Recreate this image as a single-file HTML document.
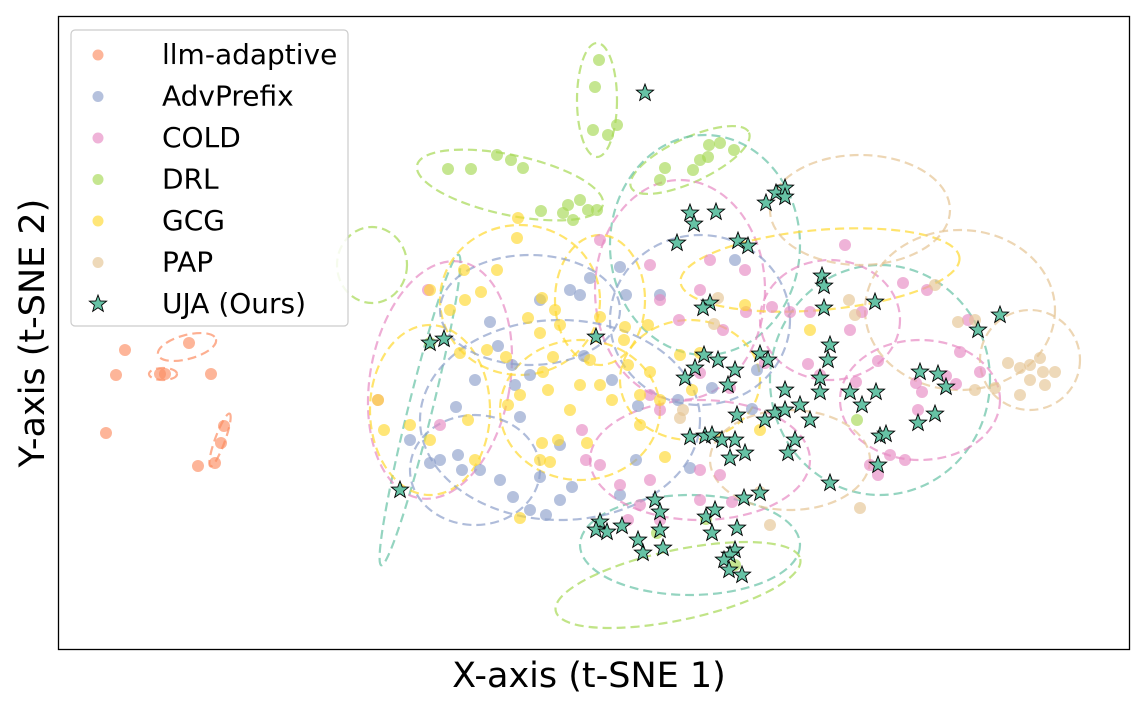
<!DOCTYPE html>
<html><head><meta charset="utf-8"><style>
html,body{margin:0;padding:0;background:#fff;}
svg text{font-family:"DejaVu Sans","Liberation Sans",sans-serif;}
</style></head><body>
<svg id="chart" width="1138" height="703" xmlns="http://www.w3.org/2000/svg">
<rect x="0" y="0" width="1138" height="703" fill="#fff"/>
<g id="ellipses"></g>
<g id="points"></g>
<rect x="58.5" y="16.5" width="1071" height="633" fill="none" stroke="#000" stroke-width="1.3"/>
<text x="589" y="687" font-size="35" text-anchor="middle">X-axis (t-SNE 1)</text>
<text x="0" y="0" font-size="35" text-anchor="middle" transform="translate(44,333) rotate(-90)">Y-axis (t-SNE 2)</text>
<g id="legend"></g>
</svg>
<script>
const groupNames = ["llm-adaptive","AdvPrefix","COLD","DRL","GCG","PAP","UJA (Ours)"];
const groupColors = ["#fc8d62","#8da0cb","#e78ac3","#a6d854","#ffd92f","#e5c494","#66c2a5"];
const llmPts = [[13.1,30.7],[6.7,30.0],[5.8,27.5],[10.2,27.6],[10.7,27.6],[15.3,27.6],[4.8,21.7],[14.0,18.4],[16.6,22.4],[16.3,20.7],[15.7,18.7]];
const advPts = [[56.2,38.3],[60.2,35.5],[56.8,35.5],[51.2,36],[52.2,35.5],[43.2,32.8],[48.2,35],[44,30.4],[45.4,28.5],[45.7,26.5],[39.8,24.3],[47.2,27.5],[41.7,27],[55.4,27],[58,24.4],[52.6,29.4],[46.2,23.3],[38.2,19],[40,19.5],[40.4,18],[37.2,18.7],[42.2,18],[44.2,17],[45.5,15.3],[47.2,14],[48.8,13.5],[50.2,15],[51.4,16.3],[48.2,17.3],[57.8,19],[50.2,20.5],[56.2,15.5],[63.2,18.2],[69.9,28],[69.4,24.1],[65.4,26.2],[62,25],[35.2,21],[53.2,37.2],[67.7,39]];
const coldPts = [[54.2,41],[59.2,38.5],[65.2,39],[68.7,38],[78.7,40.5],[64.2,36],[68.8,33.8],[71.4,34.3],[73.2,33.8],[75.2,33.8],[60.2,35],[62.1,33],[66.5,32],[80.4,33.8],[84.5,36.7],[86.9,36],[91,33],[64.2,27.7],[67.2,26.2],[70.7,28.7],[75,28.6],[76.2,27.5],[79.8,26.8],[82,28.9],[85.8,26.7],[88.8,27.4],[89.8,26.6],[92.2,27.8],[90.2,29.8],[86.4,25.8],[86,24],[82,17.5],[81.2,18.5],[83.2,19.5],[84.7,19],[59.2,25.5],[60.2,24],[52.4,22],[52.8,19],[54.2,18.5],[56.2,16.5],[58.2,14.5],[57,13],[60.2,13],[64.2,15],[67.4,14.8],[64.2,18],[66.2,17.5],[59.2,17],[38.2,22.5],[32,25],[37,36],[79.2,32]];
const drlPts = [[54.1,59],[53.7,56.3],[55.9,52.5],[55,51.5],[53.5,52],[39,48.1],[41.3,48.1],[43.9,49.5],[45.3,49],[46.5,48.2],[48.3,43.9],[50.5,43.7],[51,44.5],[52.2,45],[53,44],[53.9,44],[51.5,43],[65.1,50.5],[66.2,50.7],[67.6,50],[64.2,49],[60.7,48.2],[63.5,48],[60.2,47],[65,49.3],[37.2,30.7],[79.9,23],[67.7,8.5],[59.9,11.7],[64.8,13.1]];
const gcgPts = [[45.9,41.2],[40.6,38],[43.9,38],[37.2,36],[42.3,35.8],[39.2,34],[40.7,35],[48.4,35.2],[49.7,34],[47,33.2],[54.2,33.3],[50.2,32.5],[48.2,31.7],[56.7,32.3],[59,32.5],[56.6,31],[42.9,30],[40.2,29.7],[44.8,29.3],[49.5,29.3],[53.2,29],[57,28.5],[59.2,27.8],[62.2,29.5],[64.2,29.7],[52.2,26.5],[48.5,27.8],[46.2,25.5],[45,24.5],[49,26],[54.2,26.5],[55.4,25],[51.2,24],[58.2,25.5],[60.2,25],[63.4,26],[32.6,22],[32,25],[35.2,22.5],[41,23],[48.4,20.7],[52.9,20.7],[58.2,22.5],[37.2,21],[41.7,19],[46.2,13.2],[49.2,18.8],[50,21],[46,43.2],[68.7,34.5],[70.2,22],[48.2,19],[60.7,19.3],[75.2,32]];
const papPts = [[79.1,35],[79.7,33.5],[65.6,32.6],[90,32.8],[91.7,33],[87.7,36.5],[91.7,26],[93.7,26.2],[96.2,25.5],[97.2,27],[98.5,27.8],[99.7,27.8],[98.2,29.2],[96.2,28.2],[95,28.7],[97.2,28.5],[98.7,26.5],[62.5,24],[70.2,15.8],[71.2,12.5],[80.2,14.2],[62.2,23.2],[66,35.2]];
const ujaPts = [[58.7,55.7],[63.2,43.7],[65.8,43.8],[63.6,42.6],[61.9,40.7],[70.8,44.7],[71.8,45.7],[72.7,46.2],[72.7,45.3],[68,40.9],[69,40.4],[76.4,37.4],[76.6,36.4],[65.2,34.7],[64.5,34.2],[67.7,28],[76.6,34.2],[81.7,34.8],[94.2,33.5],[92,32],[38.6,31.1],[37.2,30.7],[53.8,31.3],[64.6,29.5],[62.7,27.2],[63.7,28.2],[66,29],[67,26.5],[70.2,29.6],[71,29],[77.2,30.5],[77,29],[76.2,27.2],[76.2,25.8],[72.7,26],[71.7,23.7],[72.7,24],[75.2,23],[73.7,21],[74.2,24.5],[79.2,25.8],[81.8,25.8],[82.2,21.4],[82.8,21.6],[82,18.5],[80.4,24.5],[77.2,16.7],[86.2,27.8],[88,27.6],[88.8,26.3],[87.7,23.6],[86,22.7],[67.9,23.5],[67.7,21],[67.2,19.2],[64.7,21.4],[65.4,21.5],[63.2,21.3],[66.4,21],[68.7,19.7],[70.7,23],[73,19.7],[70.2,15.7],[68.6,15.2],[59.7,15],[60.2,13.8],[54.2,12.8],[53.8,12],[54.9,11.8],[56.4,12.4],[60.2,12],[60.5,10.2],[58.5,9.7],[64.8,13.3],[65.4,11.7],[67.9,12.2],[67.7,10],[67.2,9.5],[66.6,9],[67.1,8],[68.4,7.5],[65.7,14],[34.2,16],[58,11]];
// ellipses: [group, cx, cy, rx, ry, rotationDeg]
const ellipseData = [
[0,12.9,30.3,3,1.2,-15],[0,10.5,27.6,1.4,0.6,0],[0,16.2,21,2.8,0.5,-70],
[3,53.9,55,2,5.7,0],[3,45.2,46.5,9.5,3,12],[3,63.2,49,6.5,2.2,-25],[3,31.4,38.5,3.5,3.8,0],[3,62,6.5,12.5,3.5,-12],
[6,64.7,40.5,9.5,11,0],[6,36.2,24,16,1.2,-76],[6,82.2,27,11,11.5,0],[6,63.2,10.5,11,5,0],
[2,62.2,36,8.5,11,0],[2,77.2,33,7,6,0],[2,38.2,27,7,12,10],[2,64.2,19,11,6,0],[2,86.2,25,8,6,0],
[4,46.2,35,8,7.5,0],[4,54.2,35,4.5,6.5,0],[4,37.2,24,6,8.5,0],[4,52.2,24,8,7,0],[4,63.2,27,7,6,0],[4,76.2,38,14,4,-5],
[1,47.2,34,9,5.5,0],[1,64.2,33,9,8.5,0],[1,41.7,18,6.5,5.5,0],[1,50.2,23,14,10,0],
[5,80.2,44,9,5.5,0],[5,90.2,34,9.5,8,0],[5,97.2,29,5,5,0],[5,73.2,19,8,5,0]
];

const NS = "http://www.w3.org/2000/svg";
const X0 = 58, Y0 = 650, KX = 10, KY = 10;
function sx(v){ return X0 + v*KX; }
function sy(v){ return Y0 - v*KY; }

const eg = document.getElementById("ellipses");
ellipseData.forEach(function(e){
  const el = document.createElementNS(NS,"ellipse");
  
  
  const cx = sx(e[1]), cy = sy(e[2]);
  el.setAttribute("cx", cx); el.setAttribute("cy", cy);
  el.setAttribute("rx", e[3]*KX); el.setAttribute("ry", e[4]*KY);
  el.setAttribute("transform", "rotate(" + e[5] + " " + cx + " " + cy + ")");
  el.setAttribute("fill", "none");
  el.setAttribute("stroke", groupColors[e[0]]);
  el.setAttribute("stroke-width", "2.2");
  el.setAttribute("stroke-dasharray", "9 5");
  el.setAttribute("opacity", "0.7");
  eg.appendChild(el);
});

const pg = document.getElementById("points");
const groups = [llmPts, advPts, coldPts, drlPts, gcgPts, papPts];
groups.forEach(function(arr, gi){
  arr.forEach(function(p){
    const c = document.createElementNS(NS,"circle");
    
    
    c.setAttribute("cx", sx(p[0])); c.setAttribute("cy", sy(p[1]));
    c.setAttribute("r", 6);
    c.setAttribute("fill", groupColors[gi]);
    c.setAttribute("fill-opacity", "0.65");
    pg.appendChild(c);
  });
});
function starPath(cx, cy, R){
  const r = R*0.42; let d = "";
  for (let i=0;i<10;i++){
    const a = -Math.PI/2 + i*Math.PI/5;
    const rr = i%2===0 ? R : r;
    d += (i===0?"M":"L") + (cx+rr*Math.cos(a)).toFixed(1) + "," + (cy+rr*Math.sin(a)).toFixed(1);
  }
  return d + "Z";
}
ujaPts.forEach(function(p){
  const s = document.createElementNS(NS,"path");
  
  
  s.setAttribute("d", starPath(sx(p[0]), sy(p[1]), 9));
  s.setAttribute("fill", "#66c2a5");
  s.setAttribute("stroke", "#000");
  s.setAttribute("stroke-width", "0.9");
  pg.appendChild(s);
});

const lg = document.getElementById("legend");
const box = document.createElementNS(NS,"rect");


box.setAttribute("x", 71); box.setAttribute("y", 30); box.setAttribute("width", 277); box.setAttribute("height", 296);
box.setAttribute("rx", 4); box.setAttribute("fill", "#fff"); box.setAttribute("fill-opacity", "0.85");
box.setAttribute("stroke", "#ccc"); box.setAttribute("stroke-width", "1.2");
lg.appendChild(box);
const legendY = [55, 96.5, 138, 179.5, 221, 262.5, 304];
groupNames.forEach(function(n, i){
  const y = legendY[i];
  let m;
  if (i === 6) {
    m = document.createElementNS(NS,"path");
    m.setAttribute("d", starPath(98, y, 9));
    m.setAttribute("fill", "#66c2a5"); m.setAttribute("stroke", "#000"); m.setAttribute("stroke-width", "0.9");
  } else {
    m = document.createElementNS(NS,"circle");
    m.setAttribute("cx", 98); m.setAttribute("cy", y); m.setAttribute("r", 5.5);
    m.setAttribute("fill", groupColors[i]); m.setAttribute("fill-opacity", "0.65");
  }
  
  
  lg.appendChild(m);
  const t = document.createElementNS(NS,"text");
  
  
  t.setAttribute("x", 162); t.setAttribute("y", y + 9);
  t.setAttribute("font-size", "28");
  t.textContent = n;
  lg.appendChild(t);
});
</script>
</body></html>
